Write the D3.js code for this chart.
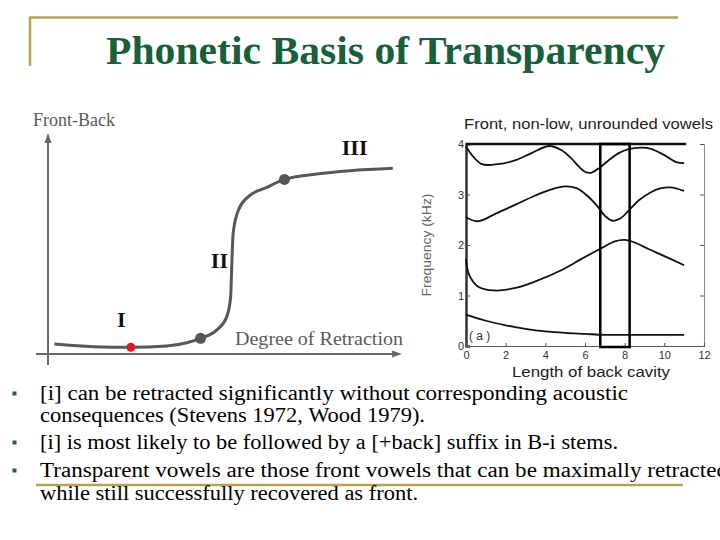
<!DOCTYPE html>
<html>
<head>
<meta charset="utf-8">
<script src="https://cdn.jsdelivr.net/npm/d3@7"></script>
<style>
  body { margin: 0; background: #fff; }
  svg { display: block; }
</style>
</head>
<body>
<svg id="slide" width="720" height="540"></svg>
<script>
// sketch curve: degree of retraction vs front-back (0..100 both ways)
var sketchCurve = [
  [1.8, 4.5], [12.8, 3.3], [23.4, 3.0], [33.5, 3.6], [39.2, 5.1], [43.1, 7.1],
  [47.7, 10.9], [50.5, 16.9], [51.6, 25.9], [51.9, 39.5], [52.3, 54.6],
  [53.8, 65.2], [56.6, 71.2], [61.8, 75.4], [66.8, 79.0], [75.9, 81.4],
  [85.3, 82.9], [97.4, 84.0]
];
var sketchDots = [
  {x: 23.4, y: 3.0, c: "#e8141a"},
  {x: 43.1, y: 7.1, c: "#555"},
  {x: 66.8, y: 79.0, c: "#555"}
];
var regionLabels = [
  {t: "I", x: 19.5, y: 12},
  {t: "II", x: 46, y: 39},
  {t: "III", x: 83, y: 90}
];

// formant frequencies (kHz) vs length of back cavity (cm)
var f1 = [[0,0.62],[1,0.5],[2,0.41],[3,0.34],[4,0.29],[5,0.26],[6,0.24],[7,0.22],[8,0.22],[11,0.22]];
var f2 = [[0,1.72],[0.15,1.42],[0.6,1.18],[1.4,1.1],[2.5,1.15],[3.5,1.28],[4.8,1.5],[5.8,1.72],
          [6.8,1.93],[7.5,2.07],[8.0,2.1],[8.5,2.05],[9.2,1.92],[10.0,1.78],[11,1.6]];
var f3 = [[0,2.55],[0.6,2.47],[1.5,2.62],[2.5,2.8],[3.5,2.98],[4.3,3.1],[5.0,3.16],[5.6,3.12],
          [6.1,2.98],[6.6,2.78],[7.0,2.58],[7.4,2.48],[7.8,2.53],[8.2,2.68],[8.7,2.88],
          [9.3,3.04],[9.8,3.12],[10.3,3.14],[11,3.07]];
var f4 = [[0,3.95],[0.3,3.78],[0.8,3.6],[1.6,3.6],[2.5,3.68],[3.3,3.82],[4.2,3.96],[4.8,3.88],
          [5.3,3.72],[5.7,3.55],[6.0,3.45],[6.3,3.43],[6.7,3.52],[7.2,3.68],[7.7,3.82],
          [8.2,3.9],[8.8,3.93],[9.3,3.91],[10.0,3.78],[10.6,3.64],[11,3.62]];
var formants = [f1, f2, f3, f4];
var windowBox = [6.77, 8.25];
var freqTicks = [0, 1, 2, 3, 4];
var lenTicks = [0, 2, 4, 6, 8, 10, 12];

var bullets = [
  ["[i] can be retracted significantly without corresponding acoustic",
   "consequences (Stevens 1972, Wood 1979)."],
  ["[i] is most likely to be followed by a [+back] suffix in B-i stems."],
  ["Transparent vowels are those front vowels that can be maximally retracted",
   "while still successfully recovered as front."]
];
var lineWidths = [588, 385, 578, 688, 378];

var svg = d3.select("#slide");
var gold = "#b8a34c";

svg.append("rect").attr("width", 720).attr("height", 540).attr("fill", "#fff");

// slide decoration
svg.append("path")
  .attr("d", "M30,66 L30,17.5 L678,17.5")
  .attr("fill", "none").attr("stroke", gold).attr("stroke-width", 2.5);
svg.append("line")
  .attr("x1", 36).attr("x2", 683).attr("y1", 485).attr("y2", 485)
  .attr("stroke", gold).attr("stroke-width", 2.5);

svg.append("text")
  .attr("x", 106).attr("y", 64)
  .attr("font-family", "Liberation Serif, serif")
  .attr("font-weight", "bold")
  .attr("font-size", 39)
  .attr("fill", "#17603a")
  .attr("textLength", 559).attr("lengthAdjust", "spacingAndGlyphs")
  .text("Phonetic Basis of Transparency");

// ---- left sketch ----
var sx = d3.scaleLinear().domain([0, 100]).range([48, 402]);
var sy = d3.scaleLinear().domain([0, 100]).range([354, 133]);
var axisGray = "#676767";

var left = svg.append("g");
left.append("line").attr("x1", sx(0)).attr("x2", sx(0)).attr("y1", 365).attr("y2", sy(100) + 8)
  .attr("stroke", axisGray).attr("stroke-width", 2);
left.append("line").attr("x1", 36).attr("x2", sx(100) - 8).attr("y1", sy(0)).attr("y2", sy(0))
  .attr("stroke", axisGray).attr("stroke-width", 2);
// arrow heads
left.append("path")
  .attr("d", "M" + sx(0) + "," + sy(100) + " l-3.5,10 l7,0 z").attr("fill", axisGray);
left.append("path")
  .attr("d", "M" + sx(100) + "," + sy(0) + " l-10,-3.5 l0,7 z").attr("fill", axisGray);

var sketchLine = d3.line()
  .x(function(d){ return sx(d[0]); })
  .y(function(d){ return sy(d[1]); })
  .curve(d3.curveMonotoneX);

left.append("path").datum(sketchCurve)
  .attr("d", sketchLine)
  .attr("fill", "none").attr("stroke", "#575757").attr("stroke-width", 3);

left.selectAll(".dot").data(sketchDots).enter().append("circle")
  .attr("cx", function(d){ return sx(d.x); })
  .attr("cy", function(d){ return sy(d.y); })
  .attr("r", function(d, i){ return i == 0 ? 4.5 : 5.5; })
  .attr("fill", function(d){ return d.c; });

left.selectAll(".roman").data(regionLabels).enter().append("text")
  .attr("x", function(d){ return sx(d.x); })
  .attr("y", function(d){ return sy(d.y); })
  .attr("font-family", "Liberation Serif, serif")
  .attr("font-weight", "bold").attr("font-size", 22)
  .attr("fill", "#111")
  .text(function(d){ return d.t; });

left.append("text")
  .attr("x", 33).attr("y", 126)
  .attr("font-family", "Liberation Serif, serif").attr("font-size", 18)
  .attr("fill", "#5a5a5a")
  .attr("textLength", 82).attr("lengthAdjust", "spacingAndGlyphs")
  .text("Front-Back");
left.append("text")
  .attr("x", 235).attr("y", 345)
  .attr("font-family", "Liberation Serif, serif").attr("font-size", 18)
  .attr("fill", "#5a5a5a")
  .attr("textLength", 168).attr("lengthAdjust", "spacingAndGlyphs")
  .text("Degree of Retraction");

// ---- right scanned plot ----
var x = d3.scaleLinear().domain([0, 12]).range([466, 704]);
var y = d3.scaleLinear().domain([0, 4]).range([346, 144]);
var right = svg.append("g");

right.append("text")
  .attr("x", 464).attr("y", 129)
  .attr("font-family", "Liberation Sans, Arial, sans-serif").attr("font-size", 14.5)
  .attr("fill", "#222")
  .attr("textLength", 249).attr("lengthAdjust", "spacingAndGlyphs")
  .text("Front, non-low, unrounded vowels");

var yAxis = d3.axisLeft(y).tickValues(freqTicks).tickSize(-4).tickPadding(2)
  .tickFormat(d3.format("d"));
var gy = right.append("g").attr("transform", "translate(" + x(0) + ",0)").call(yAxis);
gy.select(".domain").attr("stroke", "#333").attr("stroke-width", 2.5);

var gyr = right.append("g").attr("transform", "translate(" + x(12) + ",0)")
  .call(d3.axisRight(y).tickValues(freqTicks).tickSize(-4).tickFormat(""));
gyr.select(".domain").attr("stroke", "#888").attr("stroke-width", 1);

var xAxis = d3.axisBottom(x).tickValues(lenTicks).tickSize(-3).tickPadding(5)
  .tickFormat(d3.format("d"));
var gx = right.append("g").attr("transform", "translate(0," + y(0) + ")").call(xAxis);
gx.select(".domain").attr("stroke", "#555").attr("stroke-width", 1.2);

right.selectAll(".tick text")
  .attr("font-family", "Liberation Sans, Arial, sans-serif").attr("font-size", 11)
  .attr("fill", "#333");
right.selectAll(".tick line").attr("stroke", "#555");

right.append("line")
  .attr("x1", x(0)).attr("x2", x(11.1)).attr("y1", y(4)).attr("y2", y(4))
  .attr("stroke", "#111").attr("stroke-width", 2.5);

right.append("text")
  .attr("transform", "translate(431," + y(2) + ") rotate(-90)")
  .attr("text-anchor", "middle")
  .attr("font-family", "Liberation Sans, Arial, sans-serif").attr("font-size", 12)
  .attr("fill", "#666")
  .attr("textLength", 103).attr("lengthAdjust", "spacingAndGlyphs")
  .text("Frequency  (kHz)");

var fLine = d3.line()
  .x(function(d){ return x(d[0]); })
  .y(function(d){ return y(d[1]); })
  .curve(d3.curveCatmullRom);

right.selectAll(".formant").data(formants).enter().append("path")
  .attr("d", fLine)
  .attr("fill", "none").attr("stroke", "#111").attr("stroke-width", 1.8);

right.append("rect")
  .attr("x", x(windowBox[0])).attr("y", y(4))
  .attr("width", x(windowBox[1]) - x(windowBox[0]))
  .attr("height", y(0) - y(4) + 1)
  .attr("fill", "none").attr("stroke", "#000").attr("stroke-width", 2.5);

right.append("text")
  .attr("x", 469).attr("y", 340)
  .attr("font-family", "Liberation Sans, Arial, sans-serif").attr("font-size", 12)
  .attr("fill", "#333")
  .text("( a )");

right.append("text")
  .attr("x", 512).attr("y", 377)
  .attr("font-family", "Liberation Sans, Arial, sans-serif").attr("font-size", 14)
  .attr("fill", "#222")
  .attr("textLength", 158).attr("lengthAdjust", "spacingAndGlyphs")
  .text("Length of back cavity");

// ---- bullet text ----
var baselines = [400, 422, 449, 477, 500];
var li = 0;
bullets.forEach(function(b){
  svg.append("rect")
    .attr("x", 12.5).attr("y", baselines[li] - 8.5)
    .attr("width", 4).attr("height", 4)
    .attr("fill", "#2d5a47");
  b.forEach(function(line){
    svg.append("text")
      .attr("x", 40).attr("y", baselines[li])
      .attr("font-family", "Liberation Serif, serif").attr("font-size", 20)
      .attr("fill", "#000")
      .attr("textLength", lineWidths[li]).attr("lengthAdjust", "spacingAndGlyphs")
      .text(line);
    li++;
  });
});
</script>
</body>
</html>
